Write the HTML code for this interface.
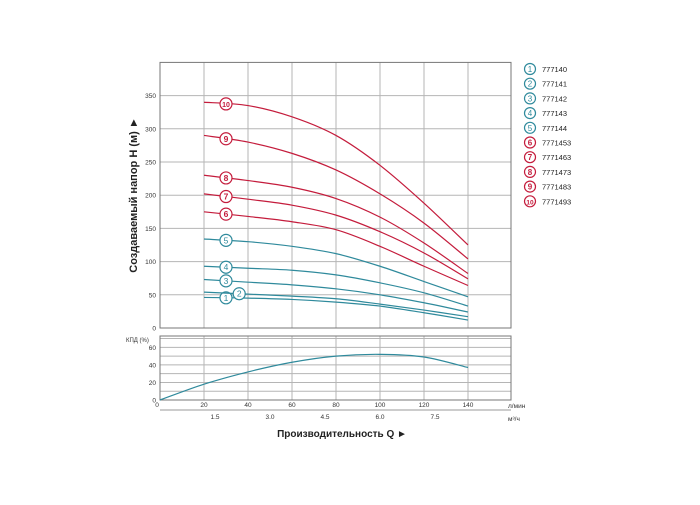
<!DOCTYPE html>
<html><head><meta charset="utf-8"><style>
body{margin:0;background:#fff;width:700px;height:500px;overflow:hidden}
svg{font-family:"Liberation Sans",sans-serif}
</style></head><body>
<svg id="c" width="700" height="500"></svg>
<script>
const qCats=[20,40,60,80,100,120,140];
const head1=[46,45,43,39,33,23,12];
const head2=[54,51,48,44,36,27,17];
const head3=[73,69,65,59,50,38,24];
const head4=[93,90,87,80,68,53,33];
const head5=[134,130,123,112,93,70,47];
const head6=[175,168,160,148,123,93,64];
const head7=[202,194,185,170,145,113,74];
const head8=[230,222,212,195,167,128,82];
const head9=[290,280,263,238,202,158,104];
const head10=[340,335,318,290,245,188,125];
const effQ=[0,20,40,60,80,100,120,140];
const effVals=[0,18,32,43,50,52,49,37];
const models=["777140","777141","777142","777143","777144","7771453","7771463","7771473","7771483","7771493"];
const hTicks=[0,50,100,150,200,250,300,350];
const eTicks=[0,20,40,60];
const m3Ticks=[1.5,3.0,4.5,6.0,7.5];
const labelQ=[30,36,30,30,30,30,30,30,30,30];

const NS="http://www.w3.org/2000/svg";
const svg=document.getElementById('c');
const TEAL="#2f8a9c",RED="#c41c3c",GRID="#b5b5b5";
const X0=160,X1=511;
const x=q=>X0+q*2.2;
const yH=v=>328-v*0.664;
const yE=v=>400-v*0.878;
function el(t,a,p){const e=document.createElementNS(NS,t);for(const k in a)e.setAttribute(k,a[k]);(p||svg).appendChild(e);return e;}
function txt(s,a,nm){const e=el('text',a);e.textContent=s;return e;}
function smooth(pts){let d=`M${pts[0][0]},${pts[0][1]}`;for(let i=0;i<pts.length-1;i++){const p0=pts[i-1]||pts[i],p1=pts[i],p2=pts[i+1],p3=pts[i+2]||p2;
d+=` C${p1[0]+(p2[0]-p0[0])/6},${p1[1]+(p2[1]-p0[1])/6} ${p2[0]-(p3[0]-p1[0])/6},${p2[1]-(p3[1]-p1[1])/6} ${p2[0]},${p2[1]}`;}return d;}

const g1=el('g',{});
for(let v=50;v<=350;v+=50)el('line',{x1:X0,x2:X1,y1:yH(v),y2:yH(v),stroke:GRID,'stroke-width':1},g1);
qCats.forEach(q=>el('line',{x1:x(q),x2:x(q),y1:yH(400),y2:yH(0),stroke:GRID},g1));
const f1=el('rect',{x:X0,y:yH(400),width:X1-X0,height:yH(0)-yH(400),fill:'none',stroke:'#777'});

hTicks.forEach(v=>txt(v,{x:156,y:yH(v)+2.5,'font-size':6.5,'text-anchor':'end',fill:'#333'},'head-tick-label'));
txt('Создаваемый напор H (м) ►',{transform:`translate(137,195) rotate(-90)`,'font-size':11,'font-weight':'bold','text-anchor':'middle',fill:'#222'},'y-axis-title');

const heads=[head1,head2,head3,head4,head5,head6,head7,head8,head9,head10];
function interp(arr,q){for(let i=0;i<qCats.length-1;i++){if(q<=qCats[i+1]){const t=(q-qCats[i])/(qCats[i+1]-qCats[i]);return arr[i]+t*(arr[i+1]-arr[i]);}}return arr[arr.length-1];}
heads.forEach((arr,i)=>{const col=i<5?TEAL:RED;
const p=el('path',{d:smooth(qCats.map((q,j)=>[x(q),yH(arr[j])])),fill:'none',stroke:col,'stroke-width':1.2});

const lq=labelQ[i],cy=yH(interp(arr,lq));
const m=el('circle',{cx:x(lq),cy:cy,r:6,fill:'#fff',stroke:col,'stroke-width':1.2});

txt(i+1,{x:x(lq),y:cy+3,'font-size':i==9?7:8.5,'text-anchor':'middle',fill:col,'font-weight':i<5?'normal':'bold'},'curve-marker-label');
});

const g2=el('g',{});
for(let v=10;v<=70;v+=10)el('line',{x1:X0,x2:X1,y1:yE(v),y2:yE(v),stroke:GRID},g2);
qCats.forEach(q=>el('line',{x1:x(q),x2:x(q),y1:336,y2:400,stroke:GRID},g2));
const f2=el('rect',{x:X0,y:336,width:X1-X0,height:64,fill:'none',stroke:'#777'});

eTicks.forEach(v=>txt(v,{x:156,y:yE(v)+2.5,'font-size':6.5,'text-anchor':'end',fill:'#333'},'efficiency-tick-label'));
txt('КПД (%)',{x:126,y:342,'font-size':6,fill:'#333'},'efficiency-axis-title');
const ep=el('path',{d:smooth(effQ.map((q,j)=>[x(q),yE(effVals[j])])),fill:'none',stroke:TEAL,'stroke-width':1.2});


qCats.forEach(q=>txt(q,{x:x(q),y:407,'font-size':6.5,'text-anchor':'middle',fill:'#333'},'x-tick-label'));
txt('0',{x:157,y:407,'font-size':6.5,'text-anchor':'middle',fill:'#333'},'x-tick-label');
txt('л/мин',{x:508,y:408,'font-size':6.5,fill:'#333'},'x-unit-lpm');
const al=el('line',{x1:X0,x2:X1,y1:410,y2:410,stroke:'#999'});
m3Ticks.forEach(v=>txt(v.toFixed(1),{x:x(v*1000/60),y:419,'font-size':6.5,'text-anchor':'middle',fill:'#333'},'m3h-tick-label'));
txt('м³/ч',{x:508,y:421,'font-size':6.5,fill:'#333'},'x-unit-m3h');
txt('Производительность Q ►',{x:342,y:437,'font-size':10,'font-weight':'bold','text-anchor':'middle',fill:'#222'},'x-axis-title');

models.forEach((m,i)=>{const col=i<5?TEAL:RED,cy=69+i*14.7;
const g=el('g',{});
el('circle',{cx:530,cy:cy,r:5.5,fill:'#fff',stroke:col,'stroke-width':1.2},g);
const t=el('text',{x:530,y:cy+3,'font-size':i==9?6.5:8,'text-anchor':'middle',fill:col,'font-weight':i<5?'normal':'bold'},g);t.textContent=i+1;
const t2=el('text',{x:542,y:cy+3,'font-size':7.5,fill:'#222'},g);t2.textContent=m;});
</script>
</body></html>
